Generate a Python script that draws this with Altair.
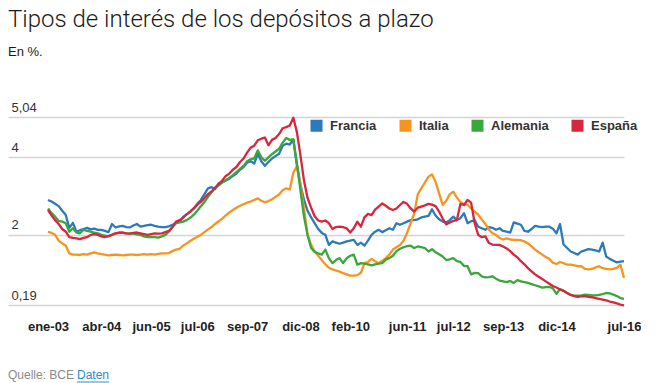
import altair as alt
import pandas as pd

# ---- data (monthly, ene-03 .. jul-16) ----
countries = ["Francia", "Italia", "Alemania", "España"]
colors = ["#2b7bba", "#f7941d", "#3aa63c", "#d7263d"]

tick_months = [0, 15, 29, 42, 56, 71, 85, 101, 114, 128, 143, 162]
tick_labels = ["ene-03", "abr-04", "jun-05", "jul-06", "sep-07", "dic-08",
               "feb-10", "jun-11", "jul-12", "sep-13", "dic-14", "jul-16"]
y_ticks = [0.19, 2, 4, 5.04]

francia = [
    2.90, 2.86, 2.80, 2.74, 2.62, 2.51, 2.18, 2.31, 2.08, 2.12,
    2.15, 2.18, 2.14, 2.16, 2.13, 2.13, 2.10, 2.07, 2.28, 2.19,
    2.22, 2.23, 2.20, 2.19, 2.24, 2.28, 2.21, 2.23, 2.25, 2.26,
    2.23, 2.21, 2.20, 2.20, 2.22, 2.26, 2.30, 2.34, 2.46, 2.53,
    2.60, 2.68, 2.80, 2.90, 3.05, 3.20, 3.23, 3.18, 3.33, 3.36,
    3.40, 3.45, 3.52, 3.58, 3.68, 3.75, 3.86, 3.90, 3.84, 4.09,
    3.90, 3.78, 3.88, 3.97, 4.03, 4.09, 4.30, 4.35, 4.33, 4.46,
    3.80, 3.30, 2.90, 2.62, 2.45, 2.30, 2.15, 2.05, 2.00, 1.74,
    1.83, 1.80, 1.77, 1.80, 1.83, 1.85, 1.87, 1.74, 1.80, 1.72,
    1.85, 2.00, 2.08, 2.13, 2.07, 2.12, 2.17, 2.13, 2.30, 2.26,
    2.30, 2.34, 2.38, 2.38, 2.40, 2.45, 2.47, 2.49, 2.66, 2.50,
    2.40, 2.34, 2.32, 2.38, 2.47, 2.38, 2.43, 2.56, 2.30, 2.35,
    2.38, 2.21, 2.17, 2.13, 2.20, 2.18, 2.13, 2.17, 2.10, 2.08,
    2.06, 2.32, 2.29, 2.26, 2.10, 2.08, 2.15, 2.23, 2.21, 2.20,
    2.21, 2.21, 2.16, 2.04, 2.28, 1.75, 1.66, 1.57, 1.53, 1.49,
    1.57, 1.60, 1.63, 1.62, 1.60, 1.57, 1.80, 1.44, 1.38, 1.33,
    1.29, 1.31, 1.32,
]
italia = [
    2.08, 2.05, 2.00, 1.85, 1.78, 1.72, 1.52, 1.49, 1.49, 1.48,
    1.50, 1.49, 1.52, 1.55, 1.52, 1.50, 1.49, 1.47, 1.48, 1.49,
    1.48, 1.47, 1.48, 1.49, 1.49, 1.48, 1.49, 1.50, 1.49, 1.50,
    1.49, 1.51, 1.52, 1.52, 1.53, 1.58, 1.62, 1.64, 1.72, 1.78,
    1.84, 1.90, 1.95, 2.00, 2.07, 2.14, 2.20, 2.28, 2.35, 2.42,
    2.50, 2.58, 2.64, 2.70, 2.75, 2.79, 2.83, 2.86, 2.90, 2.94,
    2.88, 2.84, 2.87, 2.92, 2.98, 3.04, 3.15, 3.20, 3.17, 3.60,
    3.77, 3.30, 2.68, 2.00, 1.74, 1.57, 1.46, 1.35, 1.24, 1.15,
    1.11, 1.08, 1.05, 1.01, 0.98, 0.95, 0.95, 0.96, 1.02, 1.27,
    1.30, 1.38, 1.32, 1.27, 1.33, 1.40, 1.49, 1.62, 1.68, 1.74,
    1.85, 2.05, 2.30, 2.55, 3.05, 3.20, 3.35, 3.50, 3.56, 3.37,
    3.07, 2.77, 2.88, 3.05, 3.11, 2.96, 2.85, 2.79, 2.77, 2.68,
    2.60, 2.52, 2.40, 2.28, 2.14, 2.04, 2.00, 1.92, 1.88, 1.91,
    1.88, 1.87, 1.87, 1.86, 1.83, 1.78, 1.70, 1.62, 1.55, 1.49,
    1.43, 1.38, 1.28, 1.25, 1.30, 1.27, 1.23, 1.23, 1.21, 1.19,
    1.19, 1.12, 1.11, 1.12, 1.16, 1.19, 1.14, 1.12, 1.11, 1.12,
    1.15, 1.23, 0.89,
]
alemania = [
    2.68, 2.56, 2.47, 2.36, 2.34, 2.30, 2.08, 2.17, 2.06, 2.04,
    2.13, 2.10, 2.08, 2.06, 2.04, 2.00, 1.98, 1.96, 2.00, 2.04,
    2.06, 2.05, 2.04, 2.03, 2.03, 2.01, 2.00, 1.96, 1.94, 1.94,
    1.94, 1.93, 1.96, 2.00, 2.08, 2.20, 2.30, 2.32, 2.34, 2.38,
    2.44, 2.52, 2.62, 2.74, 2.85, 2.98, 3.10, 3.20, 3.28, 3.35,
    3.41, 3.47, 3.54, 3.62, 3.70, 3.78, 3.90, 3.95, 3.97, 4.18,
    4.00, 3.91, 4.00, 4.08, 4.15, 4.22, 4.38, 4.50, 4.45, 4.46,
    3.84, 3.15, 2.47, 2.00, 1.66, 1.56, 1.52, 1.49, 1.62, 1.40,
    1.27, 1.35, 1.40, 1.27, 1.40, 1.46, 1.49, 1.23, 1.27, 1.26,
    1.24, 1.21, 1.24, 1.26, 1.27, 1.36, 1.40, 1.46, 1.58, 1.64,
    1.68, 1.71, 1.72, 1.66, 1.70, 1.68, 1.66, 1.57, 1.63, 1.55,
    1.50, 1.44, 1.35, 1.37, 1.40, 1.32, 1.30, 1.20, 1.19, 0.98,
    1.02, 1.01, 0.93, 0.90, 0.91, 0.93, 0.87, 0.82, 0.80, 0.78,
    0.81, 0.76, 0.83, 0.80, 0.78, 0.76, 0.73, 0.70, 0.67, 0.64,
    0.65, 0.66, 0.62, 0.48, 0.60, 0.56, 0.50, 0.45, 0.43, 0.43,
    0.44, 0.46, 0.45, 0.44, 0.44, 0.45, 0.47, 0.50, 0.49, 0.46,
    0.42, 0.37, 0.35,
]
espana = [
    2.64, 2.50, 2.38, 2.28, 2.15, 2.08, 1.94, 1.92, 1.91, 1.89,
    1.92, 1.94, 2.00, 2.02, 2.00, 1.96, 1.94, 1.97, 2.00, 2.04,
    2.05, 2.06, 2.04, 2.03, 2.05, 2.06, 2.04, 2.02, 2.00, 2.02,
    2.04, 2.03, 2.04, 2.07, 2.10, 2.20, 2.34, 2.38, 2.44, 2.53,
    2.60, 2.68, 2.78, 2.85, 2.95, 3.05, 3.12, 3.22, 3.31, 3.40,
    3.52, 3.58, 3.68, 3.75, 3.88, 3.97, 4.12, 4.25, 4.30, 4.44,
    4.48, 4.51, 4.31, 4.45, 4.50, 4.60, 4.75, 4.78, 4.82, 5.02,
    4.65, 4.05, 3.40, 2.95, 2.70, 2.48, 2.37, 2.34, 2.37, 2.30,
    2.15, 2.20, 2.21, 2.20, 2.17, 2.06, 2.17, 2.34, 2.21, 2.45,
    2.54, 2.51, 2.65, 2.73, 2.81, 2.75, 2.68, 2.64, 2.68, 2.77,
    2.85, 2.80, 2.68, 2.60, 2.70, 2.73, 2.76, 2.80, 2.78, 2.74,
    2.60, 2.42, 2.27, 2.32, 2.36, 2.38, 2.80, 2.77, 2.90, 2.83,
    2.30, 2.00, 1.94, 1.96, 1.79, 1.75, 1.74, 1.74, 1.70, 1.65,
    1.58, 1.49, 1.42, 1.32, 1.24, 1.14, 1.06, 0.98, 0.92, 0.86,
    0.80, 0.74, 0.68, 0.64, 0.59, 0.55, 0.50, 0.45, 0.42, 0.40,
    0.41, 0.42, 0.40, 0.39, 0.37, 0.35, 0.33, 0.31, 0.28, 0.26,
    0.23, 0.20, 0.18,
]

series = {"Francia": francia, "Italia": italia, "Alemania": alemania, "España": espana}
rows = []
for name in countries:
    for i, v in enumerate(series[name]):
        rows.append({"t": i, "pais": name, "valor": v})
df = pd.DataFrame(rows)

source_a = pd.DataFrame({"txt": ["Quelle: BCE"]})
source_b = pd.DataFrame({"txt": ["Daten"]})

PLOT_W = 616
PLOT_H = 188

months_js = "[" + ",".join(str(m) for m in tick_months) + "]"
labels_js = "[" + ",".join("'" + s + "'" for s in tick_labels) + "]"

lines = alt.Chart(df).mark_line(strokeWidth=2.3, strokeJoin="round").encode(
    x=alt.X(
        "t:Q",
        scale=alt.Scale(domain=[-11.25, 162], nice=False, zero=False),
        axis=alt.Axis(
            values=tick_months,
            labelExpr=labels_js + "[indexof(" + months_js + ", datum.value)]",
            grid=False, domain=False, ticks=False, title=None,
            labelPadding=15, labelFont="Liberation Sans", labelFontSize=13,
            labelFontWeight="bold", labelColor="#222222",
            labelFlush=False, labelOverlap=False,
        ),
    ),
    y=alt.Y(
        "valor:Q",
        scale=alt.Scale(domain=[0.19, 5.04], nice=False, zero=False),
        axis=alt.Axis(
            values=y_ticks, format=".2~f",
            labelExpr="replace(datum.label, '.', ',')",
            grid=True, gridColor="#d4d4d4", gridWidth=1.5,
            domain=False, ticks=False, title=None,
            labelAlign="left", labelBaseline="alphabetic",
            labelPadding=-3, labelOffset=-6,
            labelFont="Liberation Sans", labelFontSize=13, labelColor="#333333",
            labelFlush=False, labelOverlap=False,
        ),
    ),
    color=alt.Color(
        "pais:N",
        scale=alt.Scale(domain=countries, range=colors),
        legend=alt.Legend(
            orient="none", legendX=302, legendY=2, direction="horizontal",
            title=None, symbolType="square", symbolSize=36, symbolStrokeWidth=6,
            labelFont="Liberation Sans", labelFontSize=13, labelFontWeight="bold",
            labelColor="#333333", columnPadding=13, labelOffset=7,
        ),
    ),
)

src1 = alt.Chart(source_a).mark_text(
    align="left", baseline="middle", fontSize=12, color="#8a8a8a", font="Liberation Sans"
).encode(x=alt.value(0), y=alt.value(258), text="txt:N")
src2 = alt.Chart(source_b).mark_text(
    align="left", baseline="middle", fontSize=12, color="#2a8bd0", font="Liberation Sans"
).encode(x=alt.value(69), y=alt.value(258), text="txt:N")
underline = alt.Chart(source_b).mark_rule(color="#2a8bd0", strokeWidth=1).encode(
    x=alt.value(69), x2=alt.value(101), y=alt.value(265)
)

chart = alt.layer(lines, src1, src2, underline).properties(
    width=PLOT_W,
    height=PLOT_H,
    padding={"left": 0, "top": 0, "right": 0, "bottom": 0},
    title=alt.TitleParams(
        text="Tipos de interés de los depósitos a plazo",
        subtitle="En %.",
        anchor="start", frame="group",
        font="Roboto", fontSize=24, fontWeight=300, color="#1a1a1a",
        subtitleFont="Liberation Sans", subtitleFontSize=13, subtitleColor="#1a1a1a",
        subtitlePadding=14, offset=42,
    ),
).configure_view(stroke=None)

chart.save("out.html", embed_options={"renderer": "svg", "actions": False})
